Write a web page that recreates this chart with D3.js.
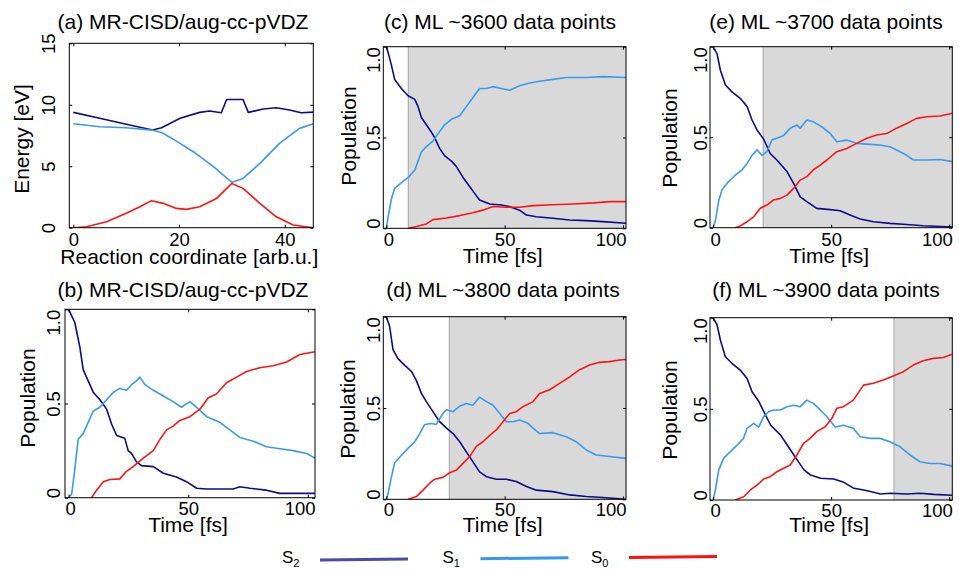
<!DOCTYPE html>
<html><head><meta charset="utf-8">
<script src="https://cdn.jsdelivr.net/npm/d3@7"></script>
<style>
body{margin:0;background:#fff}
svg{display:block}
text{font-family:"Liberation Sans",Arial,Helvetica,sans-serif;fill:#000}
</style></head>
<body><svg id="chart" width="959" height="571"></svg>
<script>
// ---------------- DATA ----------------
const seriesNames = ["S2", "S1", "S0"];
const titles = ["(a) MR-CISD/aug-cc-pVDZ", "(b) MR-CISD/aug-cc-pVDZ", "(c) ML ~3600 data points",
                "(d)  ML ~3800 data points", "(e)  ML ~3700 data points", "(f)  ML ~3900 data points"];
const energyTicks = [0, 5, 10, 15];
const coordTicks = [0, 20, 40];
const popTicks = [0, 0.5, 1.0];
const popTickLabels = ["0", "0.5", "1.0"];
const timeTicks = [0, 50, 100];
// shaded (ML-predicted) region start, fs
const shadeStart = {c: 9.25, d: 26.6, e: 21.2, f: 76.6};

// (a) energies along reaction coordinate [coord, eV]
const aS2 = [[0,9.38],[5,8.9],[10,8.42],[15,7.94],[16.7,8.13],[20.2,8.9],[23.9,9.38],[25.8,9.49],[28,9.35],[29,10.43],[32.1,10.43],[33.1,9.38],[35.9,9.65],[38.4,9.76],[40.9,9.57],[43.1,9.35],[45.4,9.4]];
const aS1 = [[0,8.46],[5,8.21],[10,8.13],[14.8,7.94],[16.7,7.75],[18.9,7.2],[22.7,6.18],[26.5,4.96],[30,3.69],[32.1,4.01],[35.3,5.23],[39,6.86],[42.8,8.08],[45.4,8.46]];
const aS0 = [[0,0],[2.5,0.08],[6.3,0.49],[10,1.17],[12.6,1.7],[14.8,2.2],[17,1.98],[19.5,1.57],[21.4,1.49],[23.9,1.71],[27.1,2.38],[30,3.6],[32.1,3.2],[35.3,1.98],[38.4,0.89],[41.6,0.22],[45.4,0]];

// (b) MR-CISD populations [fs, population]
const bS2 = [[0,1.0],[2.6,0.93],[4.7,0.80],[6.1,0.68],[8.2,0.62],[10.3,0.56],[13.1,0.52],[15.9,0.47],[18,0.39],[20.1,0.33],[23.5,0.315],[24.9,0.25],[26.3,0.235],[28.4,0.19],[30.5,0.17],[35.4,0.165],[39.6,0.13],[45.1,0.11],[49.3,0.085],[53.5,0.05],[57.7,0.046],[68.8,0.046],[71.6,0.058],[75.8,0.05],[82.7,0.04],[88.3,0.023],[102.9,0.023]];
const bS1 = [[0,0],[1.3,0.02],[2.6,0.15],[4,0.31],[6.1,0.34],[8.2,0.40],[10.3,0.46],[13.1,0.48],[15.9,0.52],[18.7,0.56],[21.4,0.58],[24.2,0.57],[26.3,0.60],[28.4,0.62],[29.8,0.64],[31.9,0.60],[35.4,0.57],[39.6,0.54],[43.7,0.51],[47.2,0.48],[50.7,0.51],[53.5,0.48],[57.7,0.43],[63.2,0.40],[67.4,0.36],[71.6,0.32],[77.2,0.30],[82.7,0.27],[88.3,0.26],[93.9,0.25],[99.4,0.235],[102.9,0.21]];
const bS0 = [[9.6,0],[11.7,0.04],[14.5,0.085],[17.3,0.097],[21.4,0.10],[24.2,0.14],[27,0.165],[31.2,0.21],[35.4,0.25],[38.2,0.31],[41,0.36],[43.7,0.38],[46.5,0.41],[50.7,0.43],[54.9,0.47],[58.4,0.53],[61.8,0.55],[66,0.61],[70.2,0.64],[74.4,0.67],[79.9,0.69],[85.5,0.70],[91.1,0.72],[96.7,0.76],[102.9,0.775]];

// (c) ML ~3600
const cS2 = [[0,1.0],[0.7,0.97],[2.1,0.90],[3.5,0.82],[6.3,0.77],[9.2,0.73],[12,0.71],[13.4,0.67],[14.8,0.61],[16.9,0.57],[19,0.53],[20.4,0.50],[22.5,0.44],[24.6,0.40],[27.5,0.37],[29.6,0.34],[32.4,0.28],[35.2,0.23],[38,0.18],[39.4,0.156],[43.7,0.134],[48.6,0.128],[52,0.12],[56.3,0.10],[59.2,0.073],[63.4,0.064],[70.4,0.055],[77.5,0.046],[84.5,0.042],[91.5,0.037],[101.3,0.028]];
const cS1 = [[0,0],[0.7,0.06],[2.1,0.16],[3.5,0.22],[6.3,0.25],[9.2,0.28],[12,0.32],[13.4,0.37],[14.8,0.42],[16.9,0.45],[19.7,0.48],[21.8,0.52],[24.6,0.57],[27.5,0.60],[31,0.62],[33.8,0.67],[36.6,0.72],[39.4,0.77],[42.3,0.77],[45.1,0.78],[48.6,0.77],[52.1,0.76],[56.3,0.785],[60.6,0.80],[64.8,0.81],[70.4,0.82],[76.1,0.83],[84.5,0.83],[91.5,0.835],[101.3,0.83]];
const cS0 = [[9.2,0],[12.7,0.01],[16.9,0.024],[19.7,0.048],[25.4,0.057],[31,0.07],[36.6,0.086],[40.8,0.10],[45.1,0.12],[50.7,0.116],[56.3,0.116],[62,0.125],[70.4,0.13],[78.9,0.134],[87.7,0.14],[94.4,0.147],[101.3,0.147]];

// (d) ML ~3800
const dS2 = [[0,1.0],[1.4,0.945],[2.8,0.82],[4.9,0.77],[7.7,0.735],[10.6,0.70],[12.7,0.65],[14.8,0.58],[16.9,0.535],[19.7,0.48],[22.5,0.425],[25.4,0.39],[28.2,0.36],[31,0.315],[33.8,0.26],[36.6,0.205],[39.4,0.15],[42.3,0.124],[46.5,0.11],[50.7,0.11],[54.9,0.097],[59.2,0.07],[63.4,0.05],[70.4,0.042],[77.5,0.024],[84.5,0.015],[91.5,0.01],[101.3,0.0]];
const dS1 = [[0,0],[0.7,0.03],[2.1,0.12],[3.5,0.20],[6.3,0.24],[9.2,0.28],[12,0.315],[14.1,0.36],[16.2,0.41],[19,0.415],[21.1,0.41],[23.9,0.47],[25.4,0.49],[28.2,0.48],[31,0.51],[33.8,0.525],[36.6,0.515],[39.4,0.56],[42.3,0.535],[45.1,0.515],[47.9,0.47],[50.7,0.425],[53.5,0.425],[56.3,0.434],[59.9,0.416],[62,0.39],[64.8,0.36],[70.4,0.365],[76.1,0.343],[80.3,0.315],[84.5,0.27],[88.7,0.243],[94.4,0.234],[101.3,0.224]];
const dS0 = [[9.2,0],[12.7,0.015],[15.5,0.05],[18.3,0.088],[20.4,0.11],[23.9,0.12],[26.8,0.146],[29.6,0.16],[32.4,0.197],[35.2,0.234],[38,0.29],[40.8,0.315],[43.7,0.35],[46.5,0.38],[49.3,0.425],[52.1,0.47],[54.9,0.48],[57.7,0.507],[62,0.535],[64.8,0.58],[69,0.6],[73.2,0.635],[77.5,0.67],[81.7,0.71],[85.9,0.735],[90.1,0.75],[94.4,0.754],[98.6,0.763],[101.3,0.766]];

// (e) ML ~3700
const eS2 = [[0,1.0],[1.7,0.96],[3.1,0.87],[5.2,0.79],[8,0.75],[11.5,0.715],[14.4,0.67],[16.5,0.595],[18.6,0.54],[21.4,0.49],[24.2,0.41],[27,0.374],[31.3,0.31],[34.1,0.245],[36.9,0.17],[39.7,0.144],[43.9,0.107],[49.6,0.10],[53.8,0.094],[58,0.07],[62.3,0.048],[67.9,0.033],[75,0.024],[82,0.018],[89,0.011],[101.3,0.004]];
const eS1 = [[0,0],[1,0.04],[2.4,0.15],[3.8,0.21],[6.6,0.255],[9.4,0.29],[12.3,0.32],[14.4,0.355],[16.5,0.40],[18.6,0.43],[20.7,0.40],[22.8,0.42],[24.9,0.484],[27,0.494],[29.9,0.51],[32.7,0.55],[35.5,0.567],[36.9,0.55],[39.7,0.595],[42.5,0.585],[46,0.558],[49.6,0.52],[52.4,0.475],[56.6,0.484],[60.8,0.466],[65.1,0.462],[70.7,0.457],[74.9,0.447],[79.2,0.42],[82,0.40],[84.8,0.374],[90.4,0.374],[96.1,0.377],[101.3,0.365]];
const eS0 = [[9.4,0],[11.5,0.01],[14.4,0.033],[17.2,0.06],[20,0.107],[22.8,0.125],[25.6,0.153],[28.5,0.162],[31.3,0.18],[34.1,0.217],[36.9,0.263],[39.7,0.282],[42.5,0.32],[45.4,0.346],[48.2,0.374],[52.4,0.42],[56.6,0.438],[60.8,0.466],[65.1,0.494],[69.3,0.512],[73.5,0.52],[77.7,0.55],[82,0.576],[86.2,0.604],[90.4,0.613],[96.1,0.617],[101.3,0.632]];

// (f) ML ~3900
const fS2 = [[0,1.0],[1.7,0.96],[3.1,0.877],[5.2,0.786],[8,0.75],[11.5,0.713],[14.4,0.667],[16.5,0.594],[19.4,0.54],[21.5,0.484],[24.4,0.41],[28.6,0.356],[32.8,0.274],[35.6,0.22],[38.5,0.165],[41.3,0.137],[45.5,0.119],[51.1,0.115],[55.4,0.097],[59.6,0.064],[63.8,0.055],[68,0.042],[70.8,0.033],[75.1,0.037],[82.1,0.033],[87.7,0.037],[93.4,0.031],[101.3,0.026]];
const fS1 = [[0,0],[1,0.055],[2.4,0.165],[4.5,0.23],[7.3,0.265],[10.1,0.30],[12.9,0.338],[14.4,0.393],[17.2,0.42],[19.3,0.40],[21.4,0.457],[23.5,0.484],[25.6,0.494],[28.5,0.494],[31.3,0.512],[34.1,0.52],[36.9,0.512],[39.7,0.548],[42.5,0.53],[45.4,0.494],[48.2,0.457],[51.7,0.40],[55.2,0.41],[59.4,0.393],[62.3,0.347],[66.5,0.338],[70.7,0.338],[74.9,0.32],[79.2,0.292],[83.4,0.247],[87.6,0.21],[91.8,0.20],[96.1,0.20],[101.3,0.186]];
const fS0 = [[9.4,0],[13,0.018],[15.8,0.055],[18.6,0.082],[21.4,0.115],[24.2,0.128],[27,0.155],[29.9,0.174],[32.7,0.192],[35.5,0.247],[38.3,0.31],[41.1,0.338],[43.9,0.375],[47.5,0.402],[50.3,0.448],[52.4,0.503],[55.2,0.512],[59.4,0.548],[63.7,0.63],[67.9,0.64],[72.1,0.658],[76.3,0.68],[80.6,0.704],[84.8,0.74],[89,0.764],[93.2,0.777],[97.5,0.782],[101.3,0.80]];

// ---------------- STYLE ----------------
const COL = {S2: "#0b0b8c", S1: "#3a9af2", S0: "#ff1414"};
const LEGCOL = {S2: "#4a4aa8", S1: "#3399f0", S0: "#ff1010"};
const FONT_TICK = 18.5, FONT_LAB = 21, FONT_TITLE = 21;

const svg = d3.select("#chart");

function panel(cfg) {
  const x = d3.scaleLinear().domain(cfg.xd).range([cfg.L, cfg.R]);
  const y = d3.scaleLinear().domain(cfg.yd).range([cfg.B, cfg.T]);
  const g = svg.append("g");
  const id = "clip-" + cfg.key;
  svg.append("clipPath").attr("id", id).append("rect")
     .attr("x", cfg.L).attr("y", cfg.T).attr("width", cfg.R - cfg.L).attr("height", cfg.B - cfg.T);

  if (cfg.shade != null) {
    g.append("rect").attr("x", x(cfg.shade)).attr("y", cfg.T)
      .attr("width", cfg.R - x(cfg.shade)).attr("height", cfg.B - cfg.T).attr("fill", "#d9d9d9");
    g.append("line").attr("x1", x(cfg.shade)).attr("x2", x(cfg.shade))
      .attr("y1", cfg.T).attr("y2", cfg.B).attr("stroke", "#a3a3a3").attr("stroke-width", 1);
  }

  const line = d3.line().x(d => x(d[0])).y(d => y(d[1]));
  cfg.series.forEach((s, i) => {
    g.append("path").attr("d", line(s)).attr("fill", "none")
      .attr("stroke", COL[seriesNames[i]]).attr("stroke-width", 1.6)
      .attr("stroke-linejoin", "round").attr("clip-path", `url(#${id})`);
  });

  // axes (inward ticks on all four sides)
  const ax = g.append("g").attr("transform", `translate(0,${cfg.B})`)
    .call(d3.axisBottom(x).tickValues(cfg.xt).tickSizeInner(-3).tickSizeOuter(0).tickFormat(d3.format("d")));
  g.append("g").attr("transform", `translate(0,${cfg.T})`)
    .call(d3.axisTop(x).tickValues(cfg.xt).tickSizeInner(-3).tickSizeOuter(0).tickFormat(""));
  const ay = g.append("g").attr("transform", `translate(${cfg.L},0)`)
    .call(d3.axisLeft(y).tickValues(cfg.yt).tickSizeInner(-3).tickSizeOuter(0)
      .tickFormat((d, i) => cfg.ytl[i]));
  g.append("g").attr("transform", `translate(${cfg.R},0)`)
    .call(d3.axisRight(y).tickValues(cfg.yt).tickSizeInner(-3).tickSizeOuter(0).tickFormat(""));
  g.selectAll(".domain").remove();
  g.selectAll(".tick line").attr("stroke", "#000").attr("stroke-width", 1);

  // x tick labels
  ax.selectAll(".tick text").each(function (d) {
    const t = d3.select(this);
    t.attr("y", cfg.xtBase - cfg.B).attr("dy", null).attr("fill", "#000")
     .style("font-size", FONT_TICK + "px").style("font-family", "'Liberation Sans',Arial,sans-serif");
    const w = this.getComputedTextLength();
    const px = x(d);
    let shift = 0;
    if (cfg.clampX) {
      if (px - w / 2 < cfg.L) shift = cfg.L - (px - w / 2);
      if (px + w / 2 > cfg.R) shift = cfg.R - (px + w / 2);
    }
    t.attr("x", shift);
  });
  // y tick labels (rotated)
  ay.selectAll(".tick text").each(function (d) {
    const t = d3.select(this);
    t.attr("x", null).attr("dy", null).attr("text-anchor", "middle").attr("fill", "#000")
     .style("font-size", FONT_TICK + "px").style("font-family", "'Liberation Sans',Arial,sans-serif");
    const w = this.getComputedTextLength();
    const py = y(d);
    let shift = 0;
    if (cfg.clampY) {
      if (py - w / 2 < cfg.T) shift = cfg.T - (py - w / 2);
      if (py + w / 2 > cfg.B) shift = cfg.B - (py + w / 2);
    }
    t.attr("transform", `translate(${cfg.ytBase - cfg.L},${shift}) rotate(-90)`);
  });

  // frame
  g.append("rect").attr("x", cfg.L).attr("y", cfg.T).attr("width", cfg.R - cfg.L)
    .attr("height", cfg.B - cfg.T).attr("fill", "none").attr("stroke", "#000").attr("stroke-width", 1);

  // title
  g.append("text").attr("x", cfg.titleX).attr("y", cfg.titleY).attr("text-anchor", "middle")
    .style("font-size", FONT_TITLE + "px").text(cfg.title);
  // axis labels
  g.append("text").attr("x", (cfg.L + cfg.R) / 2 - 2).attr("y", cfg.xlBase).attr("text-anchor", "middle")
    .style("font-size", FONT_LAB + "px").text(cfg.xlab);
  g.append("text").attr("transform", `translate(${cfg.ylBase},${cfg.ylY}) rotate(-90)`)
    .attr("text-anchor", "middle").style("font-size", FONT_LAB + "px").text(cfg.ylab);
}

const timeDomain = [-1.3, 101.3];

panel({key: "a", L: 69.3, R: 313.3, T: 43.3, B: 227.7, xd: [-0.76, 45.4], yd: [0, 15],
  xt: coordTicks, yt: energyTicks, ytl: energyTicks.map(String), clampX: false, clampY: false,
  series: [aS2, aS1, aS0], xtBase: 246.5, ytBase: 55, title: titles[0], titleX: 183, titleY: 29,
  xlab: "Reaction coordinate [arb.u.]", xlBase: 264, ylab: "Energy [eV]", ylBase: 29, ylY: 139});

panel({key: "b", L: 65, R: 315, T: 309.3, B: 497.7, xd: [-1.5, 103], yd: [0, 1],
  xt: timeTicks, yt: popTicks, ytl: popTickLabels, clampX: true, clampY: true,
  series: [bS2, bS1, bS0], xtBase: 515.5, ytBase: 60, title: titles[1], titleX: 183, titleY: 297,
  xlab: "Time [fs]", xlBase: 532, ylab: "Population", ylBase: 35, ylY: 398});

panel({key: "c", L: 383.3, R: 626, T: 46.7, B: 228.3, xd: timeDomain, yd: [0, 1],
  xt: timeTicks, yt: popTicks, ytl: popTickLabels, clampX: true, clampY: true, shade: shadeStart.c,
  series: [cS2, cS1, cS0], xtBase: 246.5, ytBase: 380, title: titles[2], titleX: 500, titleY: 29,
  xlab: "Time [fs]", xlBase: 263, ylab: "Population", ylBase: 356, ylY: 136});

panel({key: "d", L: 383.3, R: 626, T: 316.7, B: 499.3, xd: timeDomain, yd: [0, 1],
  xt: timeTicks, yt: popTicks, ytl: popTickLabels, clampX: true, clampY: true, shade: shadeStart.d,
  series: [dS2, dS1, dS0], xtBase: 515.5, ytBase: 380, title: titles[3], titleX: 503, titleY: 297,
  xlab: "Time [fs]", xlBase: 532, ylab: "Population", ylBase: 355, ylY: 409});

panel({key: "e", L: 710, R: 952.3, T: 46.7, B: 227.7, xd: timeDomain, yd: [0, 1],
  xt: timeTicks, yt: popTicks, ytl: popTickLabels, clampX: true, clampY: true, shade: shadeStart.e,
  series: [eS2, eS1, eS0], xtBase: 246.5, ytBase: 707, title: titles[4], titleX: 826, titleY: 29,
  xlab: "Time [fs]", xlBase: 263, ylab: "Population", ylBase: 677, ylY: 138});

panel({key: "f", L: 710, R: 952.3, T: 317.7, B: 500, xd: timeDomain, yd: [0, 1],
  xt: timeTicks, yt: popTicks, ytl: popTickLabels, clampX: true, clampY: true, shade: shadeStart.f,
  series: [fS2, fS1, fS0], xtBase: 516.5, ytBase: 707, title: titles[5], titleX: 826, titleY: 297,
  xlab: "Time [fs]", xlBase: 532, ylab: "Population", ylBase: 677, ylY: 410});

// ---------------- LEGEND ----------------
const legendSubs = ["2", "1", "0"];
const legX = d3.scaleOrdinal().domain(seriesNames).range([282, 442.5, 591]);
const leg = svg.append("g");
seriesNames.forEach((s, i) => {
  const lx = legX(s);
  const t = leg.append("text").attr("x", lx).attr("y", 563).style("font-size", "17px");
  t.append("tspan").text("S");
  t.append("tspan").attr("dy", 3.5).style("font-size", "11px").text(legendSubs[i]);
  leg.append("line").attr("x1", lx + 38).attr("x2", lx + 126)
    .attr("y1", 560 - i * 1.3).attr("y2", 559 - i * 1.3)
    .attr("stroke", LEGCOL[s]).attr("stroke-width", 3);
});
</script></body></html>
